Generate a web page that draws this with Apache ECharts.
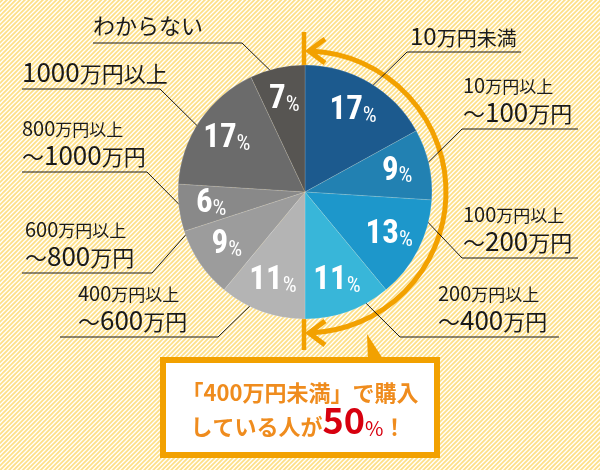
<!DOCTYPE html>
<html><head><meta charset="utf-8">
<script src="https://cdn.jsdelivr.net/npm/echarts@6/dist/echarts.min.js"></script>
<style>html,body{margin:0;padding:0;background:#fff;} #c{width:600px;height:470px;}</style>
</head><body><div id="c"></div>
<script>
// ---- data ----
const categories = ['10万円未満','10万円以上～100万円','100万円以上～200万円','200万円以上～400万円','400万円以上～600万円','600万円以上～800万円','800万円以上～1000万円','1000万円以上','わからない'];
const shares = [17, 9, 13, 11, 11, 9, 6, 17, 7];
const sliceColors = ['#1c5a8e','#2281b2','#1d97cb','#38b6d9','#b4b4b4','#9c9c9c','#898989','#6b6b6b','#575552'];
const calloutLine1 = '「400万円未満」で購入';
const calloutLine2 = ['している人が', '50', '%', '！'];

// ---- layout ----
const CX = 305, CY = 192, R = 127;
const ORANGE = '#f2a100';
const JP = '"Noto Sans CJK JP", "Noto Sans", sans-serif';
const NARROW = '"Liberation Sans Narrow", "Roboto Condensed", "DejaVu Sans Condensed", "Noto Sans", sans-serif';
const labelPlace = [
  {tx:410, uy:52,  ux:[407,521], da:1,   rf:0.93, cls:'m'},
  {tx:463, uy:129, ux:[462,578], da:1,   rf:0.945},
  {tx:463, uy:258, ux:[462,578], da:-15, rf:0.95},
  {tx:438, uy:337, ux:[400,559], da:-8,  rf:0.945},
  {tx:78,  uy:337, ux:[60,218],  da:4,   rf:0.91},
  {tx:25,  uy:273, ux:[22,152],  da:15,  rf:0.98},
  {tx:22,  uy:172, ux:[22,147],  da:-2,  rf:0.95},
  {tx:22,  uy:89,  ux:[22,160],  da:-3,  rf:0.97, cls:'l'},
  {tx:93,  uy:43,  ux:[93,242],  da:1,   rf:0.88, cls:'h'}
];

const total = shares.reduce((a,b)=>a+b,0);
const midAngles = [];
{ let acc = 0; shares.forEach(v => { midAngles.push((acc + v/2) / total * 360); acc += v; }); }

function richify(str, cls) {
  return str.replace(/(\d+|[^\d]+)/g, m => /\d/.test(m[0]) ? '{' + cls + 'd|' + m + '}' : '{' + cls + 'k|' + m + '}');
}
function outerLabel(i) {
  const name = categories[i];
  const k = name.indexOf('～');
  if (k > 0) return richify(name.slice(0, k), 's') + '\n' + richify(name.slice(k), 'l');
  return richify(name, labelPlace[i].cls);
}
const tok = (size, extra) => Object.assign({fontSize:size, fontFamily:JP, color:'#1a1a1a', verticalAlign:'bottom'}, extra || {});

// background stripes
const tile = document.createElement('canvas'); tile.width = 9; tile.height = 9;
{ const g = tile.getContext('2d'); g.fillStyle = '#fde08a'; g.fillRect(0,0,9,9);
  g.strokeStyle = '#ffffff'; g.lineWidth = 1.3;
  [0,4.5,9,13.5,18].forEach(k => { g.beginPath(); g.moveTo(-2, k+2); g.lineTo(11, k-11); g.stroke(); }); }

const chart = echarts.init(document.getElementById('c'), null, {renderer:'canvas'});
const pieData = categories.map((c,i) => ({name:c, value:shares[i], itemStyle:{color:sliceColors[i]}}));

chart.setOption({
  animation: false,
  graphic: { elements: [
    {type:'rect', z:-10, silent:true, shape:{x:0,y:0,width:600,height:470}, style:{fill:{image:tile, repeat:'repeat'}}},
    {type:'line', z:1, silent:true, shape:{x1:304,y1:32,x2:304,y2:350}, style:{stroke:ORANGE, lineWidth:4.5}},
    {type:'arc', z:1, silent:true, shape:{cx:CX, cy:CY, r:141, startAngle:-Math.PI/2+0.04, endAngle:Math.PI/2-0.04, clockwise:true}, style:{stroke:ORANGE, lineWidth:5, fill:null}},
    {type:'polyline', z:1, silent:true, shape:{points:[[325,39],[309,51],[325,63]]}, style:{stroke:ORANGE, lineWidth:5, fill:null}},
    {type:'polyline', z:1, silent:true, shape:{points:[[325,321],[309,333],[325,345]]}, style:{stroke:ORANGE, lineWidth:5, fill:null}},
    {type:'polygon', z:1, silent:true, shape:{points:[[367,334],[368,362],[385,362]]}, style:{fill:ORANGE}},
    {type:'rect', z:1, silent:true, shape:{x:163,y:360,width:274,height:95}, style:{fill:'#ffffff', stroke:ORANGE, lineWidth:6}},
    {type:'text', z:3, silent:true, style:{text:calloutLine1, x:300, y:393, align:'center', verticalAlign:'middle', fontSize:22, fontWeight:'bold', fontFamily:JP, fill:'#ef8c1e'}},
    {type:'text', z:3, silent:true, style:{
      text:'{a|' + calloutLine2[0] + '}{b|' + calloutLine2[1] + '}{c|' + calloutLine2[2] + '}{d|' + calloutLine2[3] + '}',
      x:298, y:438, align:'center', verticalAlign:'bottom',
      rich:{
        a:{fontSize:22, fontWeight:'bold', fontFamily:JP, fill:'#ef8c1e', verticalAlign:'bottom'},
        b:{fontSize:36, fontWeight:'bold', fontFamily:JP, fill:'#d7000f', verticalAlign:'bottom'},
        c:{fontSize:20, fontFamily:JP, fill:'#d7000f', verticalAlign:'bottom'},
        d:{fontSize:22, fontWeight:'bold', fontFamily:JP, fill:'#ef8c1e', verticalAlign:'bottom'}
      }}}
  ]},
  series: [
    {
      type:'pie', z:2, center:[CX, CY], radius:[0, R], startAngle:90, clockwise:true,
      avoidLabelOverlap:false, silent:true, emphasis:{disabled:true},
      itemStyle:{borderColor:'rgba(255,255,255,0.25)', borderWidth:0.6},
      data: pieData,
      label:{
        show:true, position:'outside',
        formatter: p => outerLabel(p.dataIndex),
        rich:{
          sd:tok(20), sk:tok(17),
          ld:tok(26, {lineHeight:30}), lk:tok(22, {lineHeight:30}),
          md:tok(24), mk:tok(20),
          hk:tok(22)
        }
      },
      labelLine:{show:true, length:10, length2:10, smooth:false, lineStyle:{color:'#1a1a1a', width:1}},
      labelLayout: function(params) {
        const i = params.dataIndex, L = labelPlace[i];
        const a = (midAngles[i] + L.da) * Math.PI / 180;
        const r = R * L.rf;
        const sx = CX + r * Math.sin(a), sy = CY - r * Math.cos(a);
        const right = L.ux[0] > CX;
        const elbowX = right ? L.ux[0] : L.ux[1];
        const endX = right ? L.ux[1] : L.ux[0];
        const dy = L.cls === 'h' ? 6 : 4;
        return {x:L.tx, y:L.uy - dy, align:'left', verticalAlign:'bottom',
                labelLinePoints:[[sx, sy],[elbowX, L.uy],[endX, L.uy]]};
      }
    },
    {
      type:'pie', z:3, center:[CX, CY], radius:[56, R], startAngle:90, clockwise:true,
      silent:true, emphasis:{disabled:true},
      itemStyle:{color:'rgba(0,0,0,0)'},
      data: categories.map((c,i) => ({name:c, value:shares[i]})),
      label:{
        show:true, position:'inside',
        formatter: p => '{n|' + p.value + '}{p|%}',
        rich:{
          n:{fontSize:33, fontWeight:'bold', fontFamily:NARROW, color:'#ffffff', verticalAlign:'bottom'},
          p:{fontSize:22, fontFamily:NARROW, color:'#ffffff', verticalAlign:'bottom'}
        }
      },
      labelLine:{show:false}
    }
  ]
});
</script>
</body></html>
